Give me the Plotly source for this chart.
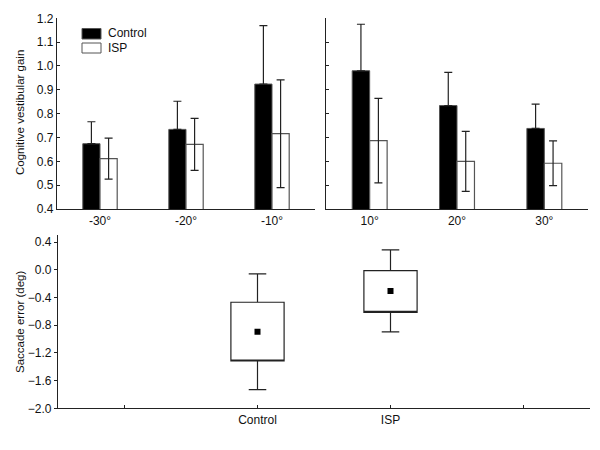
import plotly.graph_objects as go

# ---- data ----
neg_angles = ["-30°", "-20°", "-10°"]
pos_angles = ["10°", "20°", "30°"]
control_neg = [0.674, 0.734, 0.924]
control_neg_err = [0.092, 0.118, 0.245]
isp_neg = [0.611, 0.671, 0.716]
isp_neg_err = [0.086, 0.109, 0.226]
control_pos = [0.980, 0.834, 0.738]
control_pos_err = [0.195, 0.139, 0.102]
isp_pos = [0.687, 0.600, 0.592]
isp_pos_err = [0.177, 0.126, 0.094]

groups = ["Control", "ISP"]
sacc_mean = [-0.892, -0.304]
sacc_se_low = [-1.316, -0.612]
sacc_se_high = [-0.467, -0.010]
sacc_ci_low = [-1.730, -0.896]
sacc_ci_high = [-0.058, 0.289]
bottom_cats = [" ", "Control", "ISP", "  "]

FONT = "Liberation Sans, Arial, sans-serif"
AX = "#222222"
EDGE = "#555555"
TXT = "#111111"

fig = go.Figure()

def add_bars(cats, ctrl, cerr, isp, ierr, xa, ya):
    fig.add_trace(go.Bar(
        x=cats, y=ctrl, name="Control", marker=dict(color="black", line=dict(color=EDGE, width=1)),
        error_y=dict(type="data", array=cerr, arrayminus=[0] * len(cerr), symmetric=False,
                     color=AX, thickness=1.2, width=4),
        xaxis=xa, yaxis=ya, showlegend=False))
    fig.add_trace(go.Bar(
        x=cats, y=isp, name="ISP", marker=dict(color="white", line=dict(color=EDGE, width=1.2)),
        error_y=dict(type="data", array=ierr, color=AX, thickness=1.2, width=4),
        xaxis=xa, yaxis=ya, showlegend=False))

add_bars(neg_angles, control_neg, control_neg_err, isp_neg, isp_neg_err, "x", "y")
add_bars(pos_angles, control_pos, control_pos_err, isp_pos, isp_pos_err, "x2", "y2")

# bottom: mean, +-SE box, +-1.96SE whiskers
for i, g in enumerate(groups):
    fig.add_trace(go.Box(
        x=[g], q1=[sacc_se_low[i]], median=[sacc_se_low[i]], q3=[sacc_se_high[i]],
        lowerfence=[sacc_ci_low[i]], upperfence=[sacc_ci_high[i]],
        width=0.4, whiskerwidth=0.33, fillcolor="white",
        line=dict(color=AX, width=1.2), boxpoints=False,
        xaxis="x3", yaxis="y3", showlegend=False, hoverinfo="skip"))
fig.add_trace(go.Scatter(
    x=groups, y=sacc_mean, mode="markers",
    marker=dict(symbol="square", size=6, color="black"),
    xaxis="x3", yaxis="y3", showlegend=False))
# make bottom axis show all categories
fig.add_trace(go.Scatter(x=bottom_cats, y=[None] * 4, xaxis="x3", yaxis="y3",
                         showlegend=False, mode="markers"))

tickfont = dict(family=FONT, size=12, color=TXT)
common_x = dict(showline=True, linecolor=AX, linewidth=1.2, ticks="", showgrid=False,
                tickfont=tickfont, zeroline=False, type="category", automargin=False)

fig.update_layout(
    width=600, height=450, margin=dict(l=0, r=0, t=0, b=0, autoexpand=False),
    paper_bgcolor="white", plot_bgcolor="white",
    barmode="group", bargap=0.6, bargroupgap=0,
    font=dict(family=FONT, size=11, color=TXT),
    xaxis=dict(domain=[57 / 600, 315 / 600], anchor="y", range=[-0.5, 2.5], **common_x),
    xaxis2=dict(domain=[326 / 600, 588 / 600], anchor="y2", range=[-0.5, 2.5], **common_x),
    yaxis=dict(domain=[1 - 209 / 450, 1 - 18.3 / 450], anchor="x", range=[0.4, 1.2],
               dtick=0.1, tickformat=".1f", showline=True, linecolor=AX, linewidth=1.2,
               ticks="inside", ticklen=3, tickcolor=AX, showgrid=False, zeroline=False,
               tickfont=tickfont, automargin=False),
    yaxis2=dict(domain=[1 - 209 / 450, 1 - 18.3 / 450], anchor="x2", range=[0.4, 1.2],
                dtick=0.1, showline=True, linecolor=AX, linewidth=1.2, showticklabels=False,
                ticks="inside", ticklen=3, tickcolor=AX, showgrid=False, zeroline=False,
                automargin=False),
    xaxis3=dict(domain=[58 / 600, 590 / 600], anchor="y3", range=[-0.5, 3.5],
                categoryorder="array", categoryarray=bottom_cats,
                showline=True, linecolor=AX, linewidth=1.2, ticks="inside", ticklen=3,
                tickcolor=AX, showgrid=False, zeroline=False, tickfont=tickfont,
                type="category", automargin=False),
    yaxis3=dict(domain=[1 - 408.3 / 450, 1 - 235 / 450], anchor="x3", range=[-2.0, 0.505],
                tickvals=[-2.0, -1.6, -1.2, -0.8, -0.4, 0.0, 0.4], tickformat=".1f",
                showline=True, linecolor=AX, linewidth=1.2, ticks="outside", ticklen=3,
                tickcolor=AX, showgrid=False, zeroline=False, tickfont=tickfont,
                automargin=False),
)

# legend (manual)
fig.add_shape(type="rect", xref="paper", yref="paper",
              x0=82 / 600, x1=101 / 600, y0=1 - 39 / 450, y1=1 - 28.5 / 450,
              fillcolor="black", line=dict(color=EDGE, width=1))
fig.add_shape(type="rect", xref="paper", yref="paper",
              x0=82 / 600, x1=101 / 600, y0=1 - 53 / 450, y1=1 - 43 / 450,
              fillcolor="white", line=dict(color=EDGE, width=1))
fig.add_annotation(text="Control", xref="paper", yref="paper", x=106 / 600, y=1 - 33.5 / 450,
                   xanchor="left", yanchor="middle", showarrow=False,
                   font=dict(family=FONT, size=12, color=TXT))
fig.add_annotation(text="ISP", xref="paper", yref="paper", x=106 / 600, y=1 - 48 / 450,
                   xanchor="left", yanchor="middle", showarrow=False,
                   font=dict(family=FONT, size=12, color=TXT))

# axis titles
fig.add_annotation(text="Cognitive vestibular gain", xref="paper", yref="paper",
                   x=20 / 600, y=1 - 113 / 450, textangle=-90, showarrow=False,
                   xanchor="center", yanchor="middle", font=dict(family=FONT, size=11.5, color=TXT))
fig.add_annotation(text="Saccade error (deg)", xref="paper", yref="paper",
                   x=20 / 600, y=1 - 322 / 450, textangle=-90, showarrow=False,
                   xanchor="center", yanchor="middle", font=dict(family=FONT, size=11.5, color=TXT))

fig.write_html("out.html", config={"displayModeBar": False},
               post_script="document.body.style.margin='0';")
